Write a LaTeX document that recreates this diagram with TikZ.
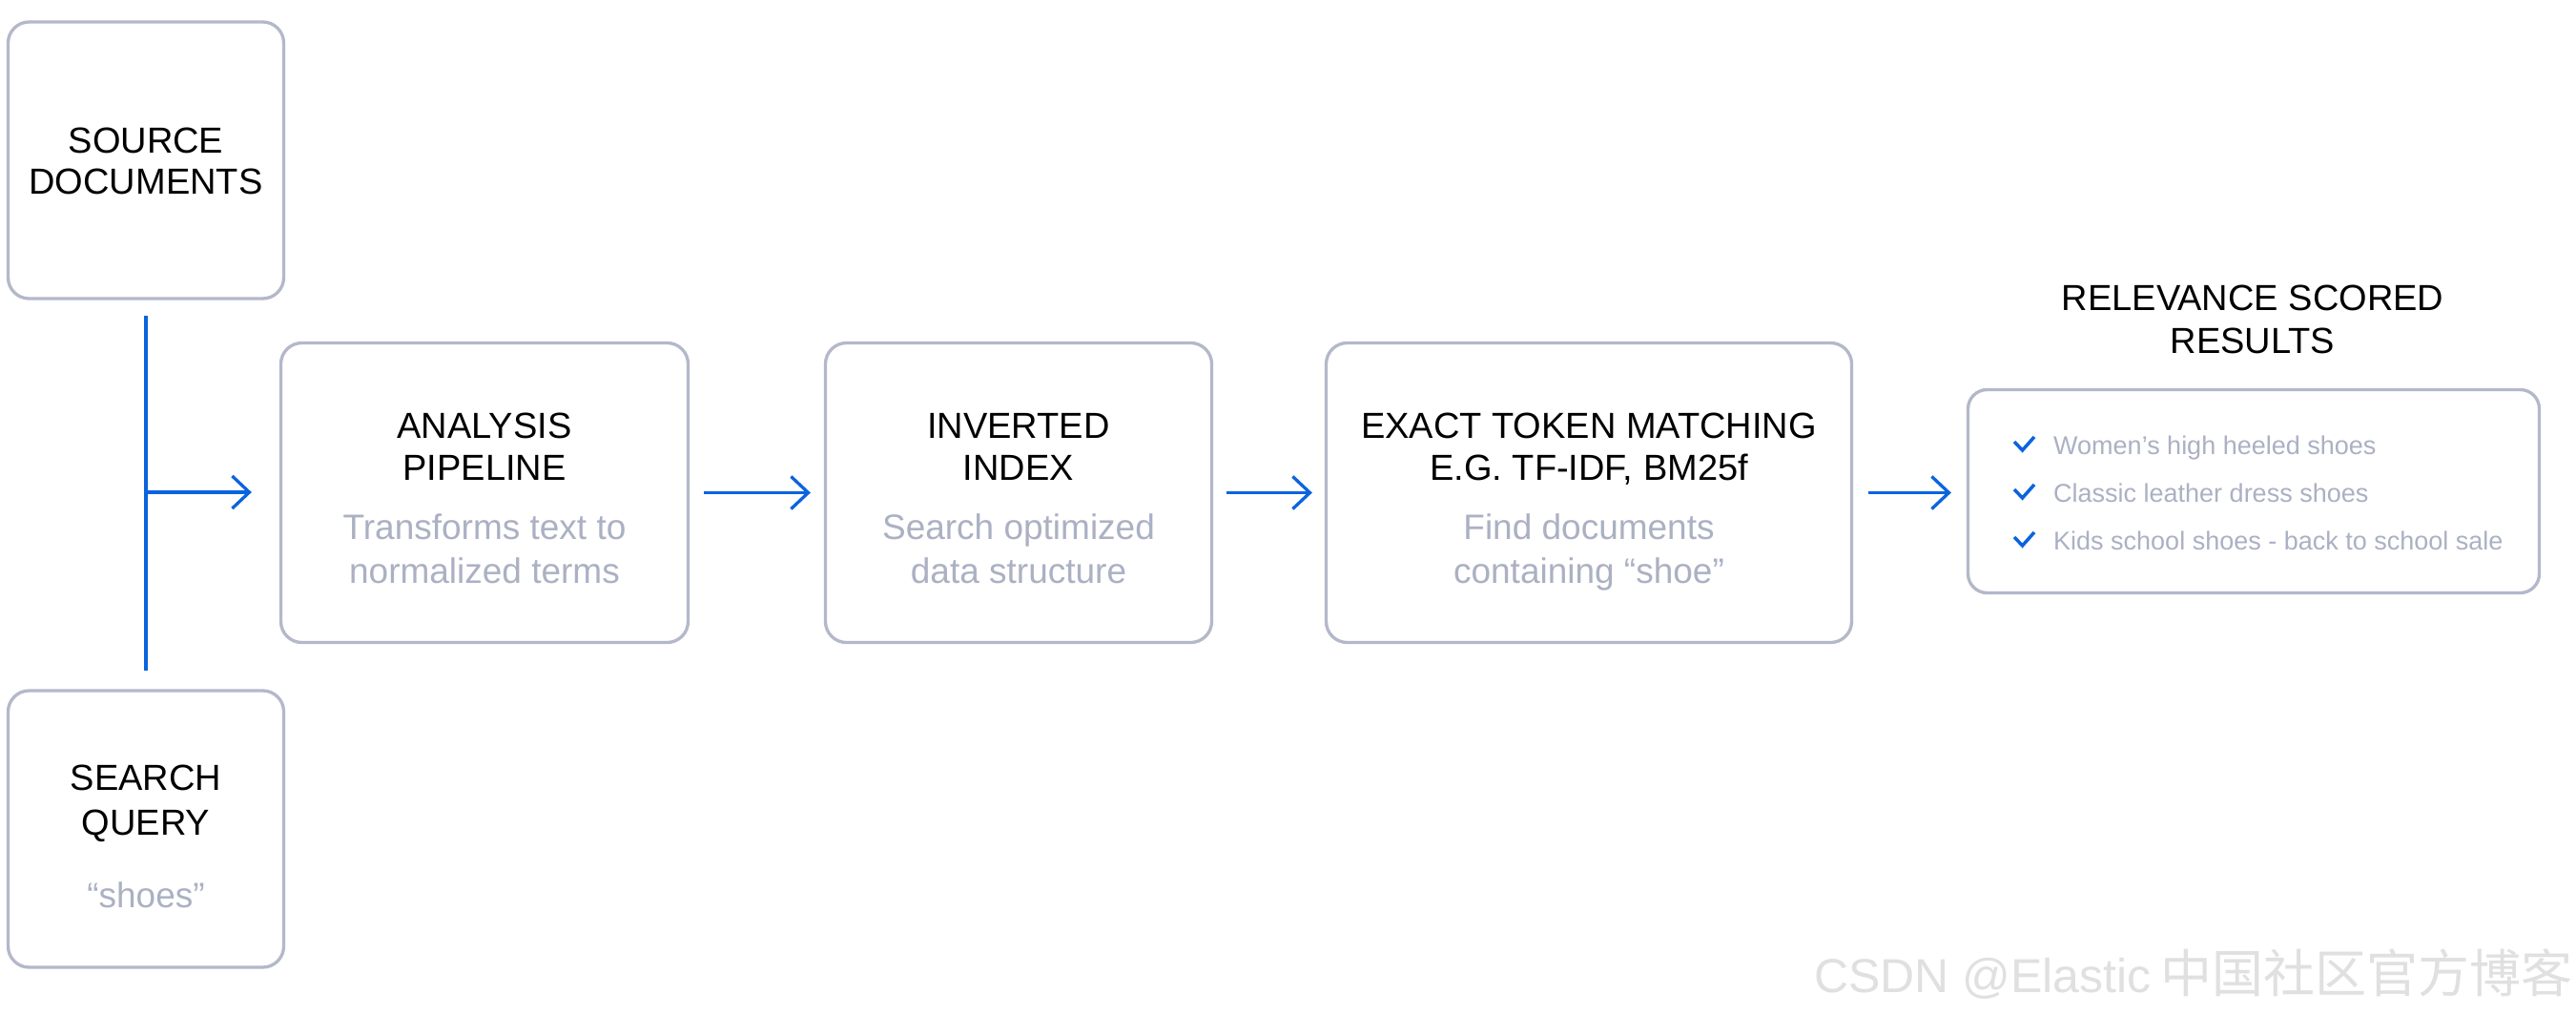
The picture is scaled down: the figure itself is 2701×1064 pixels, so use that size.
\documentclass[tikz,border=0pt]{standalone}
\usepackage{fontspec}
\setmainfont{Liberation Sans}
\newfontfamily\cjk{Noto Sans CJK SC}
\usetikzlibrary{arrows.meta}
\definecolor{boxgray}{HTML}{B3B8CA}
\definecolor{txtgray}{HTML}{ABB1C3}
\definecolor{eblue}{HTML}{0B64DD}
\definecolor{wmark}{HTML}{E0E0E0}
\tikzset{
  card/.style={draw=boxgray, line width=3.3pt, rounded corners=22pt, inner sep=0pt, fill=white},
  ttl/.style={inner sep=0pt, text height=27pt, text depth=0pt, font=\fontsize{38}{44}\selectfont, text=black},
  sub/.style={inner sep=0pt, text height=27pt, text depth=0pt, font=\fontsize{37}{44}\selectfont, text=txtgray},
  item/.style={anchor=west, inner sep=0pt, text height=20pt, text depth=0pt, font=\fontsize{27}{32}\selectfont, text=txtgray},
  link/.style={draw=eblue, line width=3.3pt},
  flow/.style={link, -{Straight Barb[length=18pt,width=34pt]}},
  tick/.style={draw=eblue, line width=3.5pt},
}
\begin{document}
\begin{tikzpicture}[x=1pt,y=-1pt]
\fill[white] (0,0) rectangle (2701,1064);
\useasboundingbox (0,0) rectangle (2701,1064);

% boxes
\node[card, minimum width=289pt, minimum height=290pt] (src) at (153,168) {};
\node[card, minimum width=289pt, minimum height=290pt] (qry) at (153,869) {};
\node[card, minimum width=427pt, minimum height=314pt] (ana) at (508,516.5) {};
\node[card, minimum width=405pt, minimum height=314pt] (inv) at (1068,516.5) {};
\node[card, minimum width=551pt, minimum height=314pt] (exa) at (1666,516.5) {};
\node[card, rounded corners=20pt, minimum width=599pt, minimum height=213pt] (res) at (2363,515) {};

% texts
\node[ttl] (srcA) at (153,147) {SOURCE};
\node[ttl] (srcB) at (153,190) {DOCUMENTS};

\node[ttl] (qryA) at (153,815) {SEARCH};
\node[ttl] (qryB) at (153,862) {QUERY};
\node[sub] (qryC) at (153,938) {“shoes”};

\node[ttl] (anaA) at (508,446) {ANALYSIS};
\node[ttl] (anaB) at (508,490) {PIPELINE};
\node[sub] (anaC) at (508,552) {Transforms text to};
\node[sub] (anaD) at (508,598) {normalized terms};

\node[ttl] (invA) at (1068,446) {INVERTED};
\node[ttl] (invB) at (1068,490) {INDEX};
\node[sub] (invC) at (1068,552) {Search optimized};
\node[sub] (invD) at (1068,598) {data structure};

\node[ttl] (exaA) at (1666,446) {EXACT TOKEN MATCHING};
\node[ttl] (exaB) at (1666,490) {E.G. TF-IDF, BM25f};
\node[sub] (exaC) at (1666,552) {Find documents};
\node[sub] (exaD) at (1666,598) {containing “shoe”};

\node[ttl] (resA) at (2362,312) {RELEVANCE SCORED};
\node[ttl] (resB) at (2362,357) {RESULTS};

\node[item] (it1) at (2153,466) {Women’s high heeled shoes};
\node[item] (it2) at (2153,516) {Classic leather dress shoes};
\node[item] (it3) at (2153,566) {Kids school shoes - back to school sale};

\foreach \yy in {466,516,566}{
  \draw[tick] (2112,\yy-3) -- (2120.5,\yy+6) -- (2133,\yy-8);
}

% connectors
\coordinate (jn) at (153,516);
\draw[link, shorten <=16pt, shorten >=19pt] (src.south) -- (qry.north);
\draw[flow, shorten >=29pt] (jn) -- (ana.west |- jn);
\draw[flow, shorten <=15pt, shorten >=14pt] (ana.east) -- (inv.west);
\draw[flow, shorten <=14pt, shorten >=13pt] (inv.east) -- (exa.west);
\draw[flow, shorten <=16pt, shorten >=16pt] (exa.east) -- (exa.east -| res.west);

% watermark
\node[anchor=base west, inner sep=0pt, text=wmark, font=\fontsize{50}{60}\selectfont] (wm) at (1902,1040) {CSDN @Elastic\hspace{10pt}{\cjk\fontsize{54}{60}\selectfont 中国社区官方博客}};
\end{tikzpicture}
\end{document}
